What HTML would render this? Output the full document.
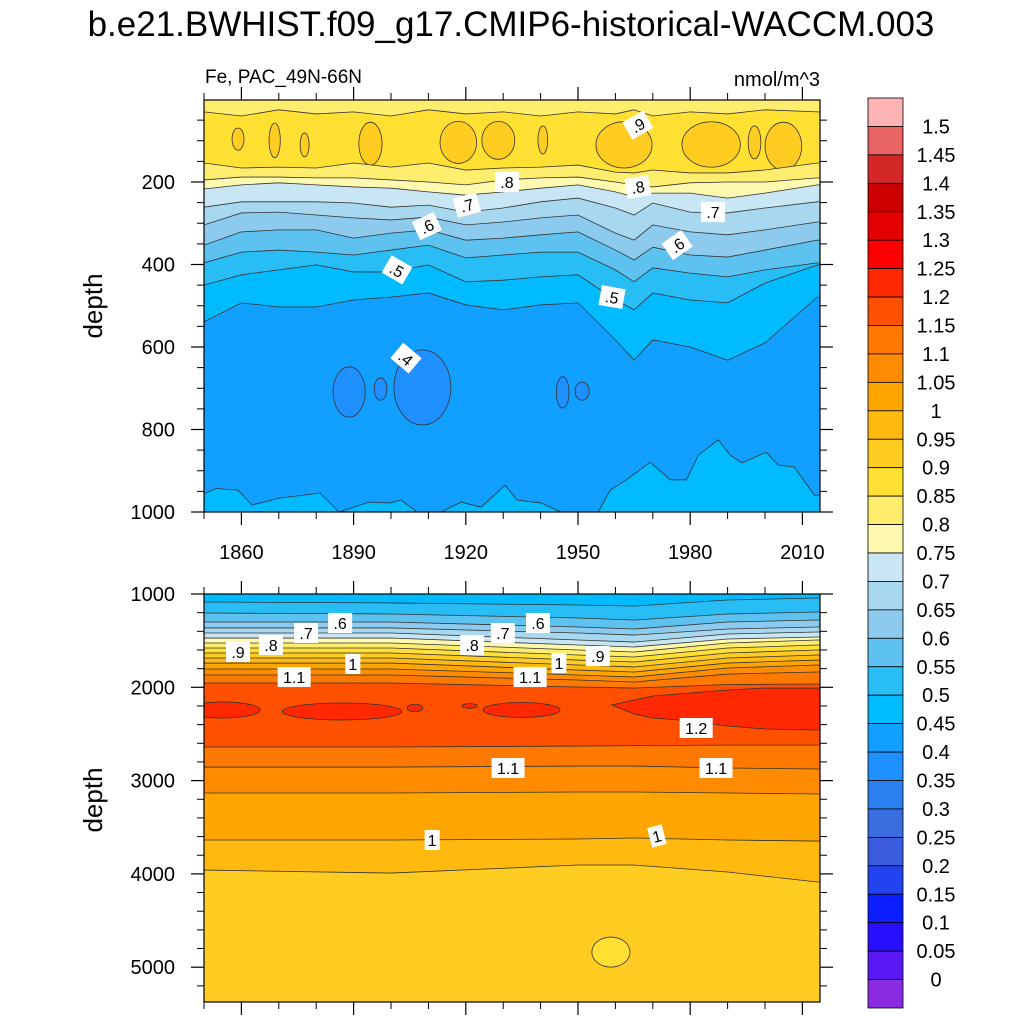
<!DOCTYPE html>
<html><head><meta charset="utf-8"><style>
body{margin:0;background:#fff}
svg{display:block;font-family:"Liberation Sans",sans-serif}
</style></head><body>
<svg id="chart" width="1024" height="1024" viewBox="0 0 1024 1024" xmlns="http://www.w3.org/2000/svg">
<defs>
<clipPath id="clipTop"><rect x="204" y="100" width="616" height="412"/></clipPath>
<clipPath id="clipBot"><rect x="204" y="594" width="616" height="408"/></clipPath>
</defs>
<text x="511" y="36" font-size="35" text-anchor="middle">b.e21.BWHIST.f09_g17.CMIP6-historical-WACCM.003</text>
<text x="205" y="83" font-size="19">Fe, PAC_49N-66N</text>
<text x="820" y="86" font-size="20" text-anchor="end">nmol/m^3</text>
<g id="gTop" clip-path="url(#clipTop)"></g>
<g id="gBot" clip-path="url(#clipBot)"></g>
<g id="gAxes"></g>
<g id="gLabels"></g>
<g id="gBar"></g>
<text transform="translate(102,306) rotate(-90)" font-size="26" text-anchor="middle">depth</text>
<text transform="translate(102,800) rotate(-90)" font-size="26" text-anchor="middle">depth</text>
</svg>
<script>
// ---------- data ----------
const barColors = ['#FFB4B4','#E86464','#D42828','#CC0000','#E50000','#FF0000','#FF2800','#FF5000','#FF7800','#FF8C00','#FFA500','#FFB90F','#FFCC22','#FFE033','#FFEE6E','#FFF9B0','#C8E6F3','#A8D8EF','#8CCAEE','#5EC2F0','#28BDF5','#00BBFF','#11A0FF','#1E90FF','#2A80F0','#3A6EE0','#3C5CE0','#2244EE','#0A1EFF','#2810FF','#5A18F5','#8A2BE2'];
const barLabels = ['1.5','1.45','1.4','1.35','1.3','1.25','1.2','1.15','1.1','1.05','1','0.95','0.9','0.85','0.8','0.75','0.7','0.65','0.6','0.55','0.5','0.45','0.4','0.35','0.3','0.25','0.2','0.15','0.1','0.05','0'];
const topYears = [1850,1860,1870,1880,1890,1900,1910,1920,1930,1940,1950,1960,1965,1970,1980,1990,2000,2014];
const topLevels = [0.85,0.8,0.75,0.7,0.65,0.6,0.55,0.5,0.45];
const surfDepth = [30,40,25,35,30,40,25,35,30,40,30,35,25,40,30,35,25,30];
const topB1 = [154,166,164,166,154,164,154,171,166,164,159,176,178,171,178,178,171,154];
const topB2 = [195,188,188,190,190,195,200,207,195,190,188,200,207,212,202,200,200,190];
const topB3 = [217,207,202,207,212,215,224,232,224,215,207,224,236,227,227,239,227,207];
const topB4 = [261,248,248,248,251,261,256,273,263,248,239,263,280,251,273,275,263,248];
const topB5 = [304,275,273,280,287,292,285,304,297,287,280,324,341,304,321,328,316,297];
const topB6 = [353,321,316,316,336,324,316,341,336,328,321,365,389,358,377,382,365,341];
const topB7 = [396,370,365,370,377,365,353,384,377,370,370,413,442,408,421,430,413,396];
const topB8 = [450,425,413,401,418,418,401,442,438,430,425,486,510,469,486,493,445,401];
const topB9 = [539,493,503,503,486,479,469,498,510,498,493,583,632,583,600,632,590,479];
const deepYears = [1850.5,1853.2,1859.1,1862.8,1870.3,1876.7,1881.0,1886.1,1894.1,1899.5,1902.7,1907.0,1913.4,1918.7,1924.1,1930.5,1933.7,1940.1,1945.5,1955.4,1958.6,1962.9,1969.3,1974.7,1979.0,1982.2,1987.5,1990.7,1993.9,2000.3,2003.5,2007.8,2013.2];
const deepB045 = [954,943,947,983,966,959,954,1000,976,978,971,1000,1000,976,988,935,971,978,1000,1000,947,922,879,922,922,862,825,862,881,855,886,891,959];
const yBlobYear = [1859.1,1868.9,1876.9,1894.5,1918.0,1928.7,1940.6,1962.3,1985.6,1997.2,2004.9];
const yBlobYearHalf = [1.6,1.5,1.2,3.1,4.9,4.4,1.3,7.5,7.8,1.7,4.9];
const yBlobDepth = [96,99,110,107,104,99,98,110,109,104,113];
const yBlobDepthHalf = [27,42,29,52,51,46,34,56,55,40,58];
const bBlobYear = [1888.8,1897.2,1908.4,1945.9,1951.1];
const bBlobYearHalf = [4.3,1.7,7.6,1.7,1.9];
const bBlobDepth = [709,702,698,710,707];
const bBlobDepthHalf = [61,27,91,38,22];
// lower panel
const botYears = [1850,1900,1950,1965,1990,2014];
const botUpLevels = [0.5,0.55,0.6,0.65,0.7,0.75,0.8,0.85,0.9,0.95,1.0,1.05,1.1,1.15];
const botUpDepths = [
 [1086,1096,1118,1129,1064,1043],
 [1204,1214,1257,1279,1214,1193],
 [1300,1300,1354,1375,1300,1279],
 [1364,1364,1418,1440,1375,1354],
 [1418,1418,1493,1515,1429,1407],
 [1472,1472,1547,1568,1482,1461],
 [1525,1525,1600,1622,1525,1493],
 [1579,1579,1654,1675,1579,1547],
 [1632,1632,1708,1729,1632,1600],
 [1686,1686,1761,1782,1686,1654],
 [1740,1740,1815,1836,1740,1708],
 [1804,1804,1868,1890,1793,1761],
 [1868,1868,1922,1943,1858,1836],
 [1954,1954,1997,2008,1970,1965]];
const botLowLevels = [1.15,1.1,1.05,1.0,0.95];
const botLowDepths = [
 [2640,2640,2630,2625,2620,2620],
 [2855,2855,2844,2844,2865,2876],
 [3133,3133,3122,3122,3133,3144],
 [3637,3637,3626,3615,3637,3648],
 [3959,3991,3905,3905,3980,4087]];
const redBlobYear = [1855,1886.9,1906.4,1921,1934.9];
const redBlobYearHalf = [10,16,2.1,2,10.3];
const redBlobDepth = [2243,2259,2222,2200,2243];
const redBlobDepthHalf = [86,91,40,25,80];
const redRegYears = [1959,1965,1970,1980,1990,2000,2014];
const redRegTop = [2190,2136,2093,2061,2029,2008,2008];
const redRegBot = [2190,2286,2329,2361,2415,2447,2458];
const lowBlobYear = [1958.8];
const lowBlobYearHalf = [5.1];
const lowBlobDepth = [4838];
const lowBlobDepthHalf = [161];
const topLabelText = ['.9','.8','.8','.7','.7','.6','.6','.5','.5','.4'];
const topLabelYear = [1966.0,1931.0,1966.0,1920.3,1986.1,1909.6,1976.5,1901.6,1959.1,1904.0];
const topLabelDepth = [62,200,212,256,273,307,353,413,479,627];
const topLabelAngle = [-30,0,-10,-15,0,-25,-35,30,10,40];
const botLabelText = ['.9','.8','.7','.6','.8','.7','.6','.9','1','1','1.1','1.1','1.2','1.1','1.1','1','1'];
const botLabelYear = [1859.1,1867.9,1877.3,1886.4,1921.7,1929.9,1939.3,1955.3,1889.8,1944.9,1874.1,1937.2,1981.6,1931.3,1986.9,1911.0,1971.1];
const botLabelDepth = [1622,1547,1418,1311,1547,1418,1311,1665,1750,1740,1890,1890,2436,2865,2865,3637,3594];
const botLabelAngle = [0,0,0,0,0,0,0,0,0,0,0,0,0,0,0,0,-15];
const xMajor = [1860,1890,1920,1950,1980,2010];
const xMinor = [1850,1870,1880,1900,1910,1930,1940,1960,1970,1990,2000];
const topYMajor = [200,400,600,800,1000];
const botYMajor = [1000,2000,3000,4000,5000];

// ---------- scales ----------
const NS='http://www.w3.org/2000/svg';
const xs = yr => 204 + (yr-1850)*3.74;
const yT = d => 99.5 + d*0.4125;
const yB = d => 594 + (d-1000)*0.0933;
function mk(tag, attrs, parent){const e=document.createElementNS(NS,tag);for(const k in attrs)e.setAttribute(k,attrs[k]);parent.appendChild(e);return e;}
function bandColor(v){return barColors[30-Math.round(v/0.05)];}
const gTop=document.getElementById('gTop'), gBot=document.getElementById('gBot');
const gAx=document.getElementById('gAxes'), gL=document.getElementById('gLabels'), gBar=document.getElementById('gBar');

function curvePts(years, depths, yf){
  const p=[]; p.push([196, yf(depths[0])]);
  years.forEach((y,i)=>p.push([xs(y), yf(depths[i])]));
  p.push([828, yf(depths[depths.length-1])]);
  return p;
}
function fillBelow(g, years, depths, yf, color, bottom, name){
  const p=curvePts(years,depths,yf);
  const pts=p.map(q=>q.join(',')).join(' ')+` 828,${bottom} 196,${bottom}`;
  const poly=mk('polygon',{points:pts,fill:color,stroke:'none'},g);
  
  
  const ln=mk('polyline',{points:p.map(q=>q.join(',')).join(' '),fill:'none',stroke:'#333','stroke-width':0.8},g);
  
  
}
function blob(g, yr, yh, d, dh, yf, color, name){
  const cy=yf(d); const ry=Math.abs(yf(d+dh)-cy);
  const e=mk('ellipse',{cx:xs(yr),cy:cy,rx:yh*3.74,ry:ry,fill:color,stroke:'#333','stroke-width':0.8},g);
  
  
}

// ---------- upper panel ----------
mk('rect',{x:204,y:100,width:616,height:412,fill:bandColor(0.8)},gTop);
fillBelow(gTop, topYears, surfDepth, yT, bandColor(0.85), 520, 'surface');
yBlobYear.forEach((y,i)=>blob(gTop,y,yBlobYearHalf[i],yBlobDepth[i],yBlobDepthHalf[i],yT,bandColor(0.9),'blob-0-9'));
const topBounds=[topB1,topB2,topB3,topB4,topB5,topB6,topB7,topB8,topB9];
topBounds.forEach((b,i)=>fillBelow(gTop, topYears, b, yT, bandColor(topLevels[i]-0.05), 520, 'level-'+topLevels[i]));
fillBelow(gTop, deepYears, deepB045, yT, bandColor(0.45), 520, 'deep-0.45');
bBlobYear.forEach((y,i)=>blob(gTop,y,bBlobYearHalf[i],bBlobDepth[i],bBlobDepthHalf[i],yT,bandColor(0.35),'blob-0-35'));

// ---------- lower panel ----------
mk('rect',{x:204,y:594,width:616,height:408,fill:bandColor(0.45)},gBot);
botUpDepths.forEach((b,i)=>fillBelow(gBot, botYears, b, yB, bandColor(botUpLevels[i]), 1010, 'up-'+botUpLevels[i]));
botLowDepths.forEach((b,i)=>fillBelow(gBot, botYears, b, yB, bandColor(botLowLevels[i]-0.05), 1010, 'low-'+botLowLevels[i]));
redBlobYear.forEach((y,i)=>blob(gBot,y,redBlobYearHalf[i],redBlobDepth[i],redBlobDepthHalf[i],yB,bandColor(1.2),'blob-1-2'));
{
  const pts=[];
  redRegYears.forEach((y,i)=>pts.push(xs(y)+','+yB(redRegTop[i])));
  pts.push('828,'+yB(redRegTop[redRegTop.length-1]));
  pts.push('828,'+yB(redRegBot[redRegBot.length-1]));
  for(let i=redRegYears.length-1;i>=0;i--) pts.push(xs(redRegYears[i])+','+yB(redRegBot[i]));
  const r=mk('polygon',{points:pts.join(' '),fill:bandColor(1.2),stroke:'#333','stroke-width':0.8},gBot);
  
  
}
lowBlobYear.forEach((y,i)=>blob(gBot,y,lowBlobYearHalf[i],lowBlobDepth[i],lowBlobDepthHalf[i],yB,bandColor(0.85),'blob-0-85'));

// ---------- axes ----------
function frame(y0,y1,name){
  const r=mk('rect',{x:204,y:y0,width:616,height:y1-y0,fill:'none',stroke:'#000','stroke-width':1.2},gAx);
  
  
  xMajor.forEach(yr=>{mk('line',{x1:xs(yr),x2:xs(yr),y1:y1,y2:y1+13,stroke:'#000','stroke-width':1.2},gAx);mk('line',{x1:xs(yr),x2:xs(yr),y1:y0,y2:y0-13,stroke:'#000','stroke-width':1.2},gAx);});
  xMinor.forEach(yr=>{mk('line',{x1:xs(yr),x2:xs(yr),y1:y1,y2:y1+7,stroke:'#000'},gAx);mk('line',{x1:xs(yr),x2:xs(yr),y1:y0,y2:y0-7,stroke:'#000'},gAx);});
}
frame(100,512,'upper-frame'); frame(594,1002,'lower-frame');
xMajor.forEach(yr=>{
  const t=mk('text',{x:xs(yr),y:559,'font-size':20,'text-anchor':'middle'},gAx); t.textContent=yr;
  
  
});
for(let d=50; d<=1000; d+=50){
  const maj=d%200===0, L=maj?13:7, y=yT(d);
  mk('line',{x1:204,x2:204-L,y1:y,y2:y,stroke:'#000','stroke-width':maj?1.2:1},gAx);
  mk('line',{x1:820,x2:820+L,y1:y,y2:y,stroke:'#000','stroke-width':maj?1.2:1},gAx);
}
topYMajor.forEach(d=>{const t=mk('text',{x:175,y:yT(d)+7,'font-size':20,'text-anchor':'end'},gAx);t.textContent=d;
  
  });
for(let d=1000; d<=5300; d+=200){
  const maj=d%1000===0, L=maj?13:7, y=yB(d);
  mk('line',{x1:204,x2:204-L,y1:y,y2:y,stroke:'#000','stroke-width':maj?1.2:1},gAx);
  mk('line',{x1:820,x2:820+L,y1:y,y2:y,stroke:'#000','stroke-width':maj?1.2:1},gAx);
}
botYMajor.forEach(d=>{const t=mk('text',{x:175,y:yB(d)+7,'font-size':20,'text-anchor':'end'},gAx);t.textContent=d;
  
  });

// ---------- contour labels ----------
function clabel(txt,x,y,ang){
  const g=mk('g',{transform:`translate(${x},${y}) rotate(${ang})`},gL);
  
  
  const w=txt.length*9+6;
  mk('rect',{x:-w/2,y:-10,width:w,height:20,fill:'#fff'},g);
  const t=mk('text',{x:0,y:6,'font-size':16,'text-anchor':'middle'},g); t.textContent=txt;
}
topLabelText.forEach((t,i)=>clabel(t,xs(topLabelYear[i]),yT(topLabelDepth[i]),topLabelAngle[i]));
botLabelText.forEach((t,i)=>clabel(t,xs(botLabelYear[i]),yB(botLabelDepth[i]),botLabelAngle[i]));

// ---------- colorbar ----------
const bh=(1008-98)/barColors.length;
barColors.forEach((c,i)=>{
  const r=mk('rect',{x:868,y:98+i*bh,width:35,height:bh,fill:c,stroke:'#000','stroke-width':0.8},gBar);
  
  
});
barLabels.forEach((l,i)=>{
  const t=mk('text',{x:936,y:98+(i+1)*bh+7,'font-size':20,'text-anchor':'middle'},gBar); t.textContent=l;
  
  
});
</script>
</body></html>
